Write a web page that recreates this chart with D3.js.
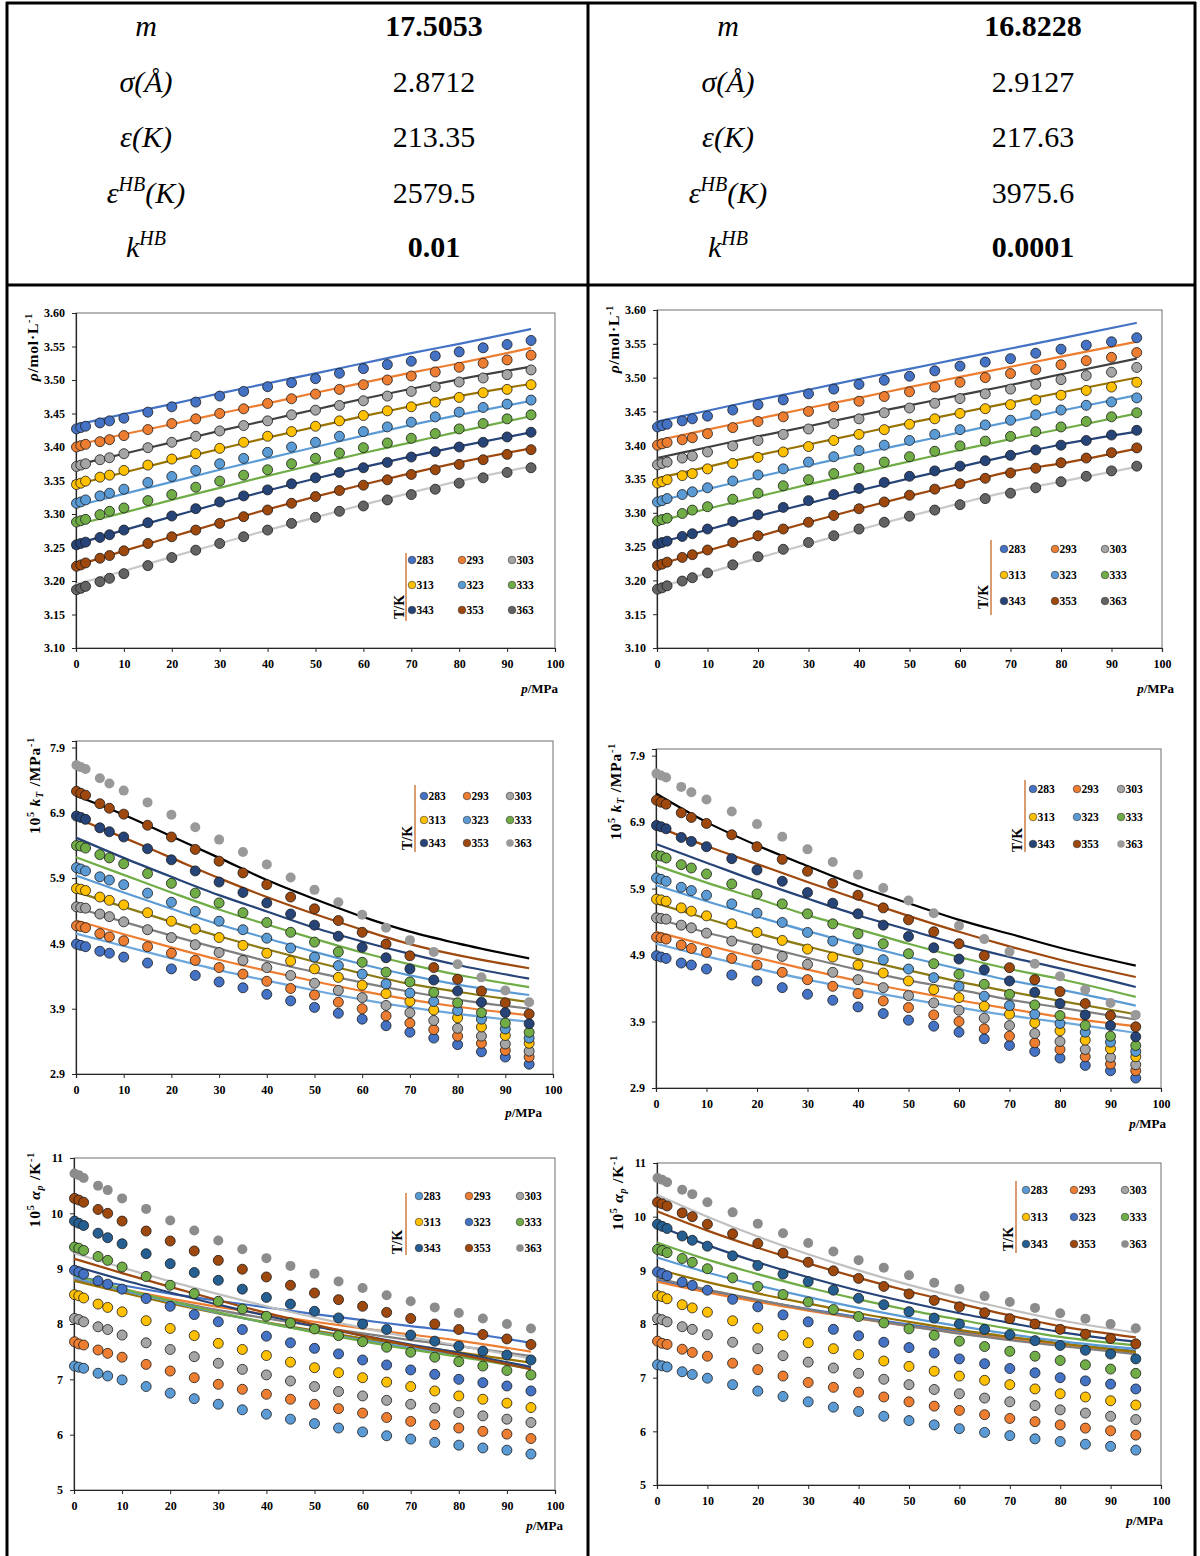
<!DOCTYPE html>
<html><head><meta charset="utf-8">
<script src="https://cdn.jsdelivr.net/npm/d3@7"></script>
<style>
body{margin:0;background:#fff}
svg{display:block}
text{font-family:"Liberation Serif","Times New Roman",serif;fill:#000}
</style>
</head><body>
<svg id="c" width="1200" height="1556"></svg>
<script>
// ---------------- DATA ----------------
const temps = [283, 293, 303, 313, 323, 333, 343, 353, 363];
const pExp = [0.1, 1, 2, 5, 7, 10, 15, 20, 25, 30, 35, 40, 45, 50, 55, 60, 65, 70, 75, 80, 85, 90, 95];
const pModel = [0, 10, 20, 30, 40, 50, 60, 70, 80, 95];
const pTicks = ["0","10","20","30","40","50","60","70","80","90","100"];
const rhoTicks = ["3.10","3.15","3.20","3.25","3.30","3.35","3.40","3.45","3.50","3.55","3.60"];
const ktTicks = ["2.9","3.9","4.9","5.9","6.9","7.9"];
const alphaTicks = ["5","6","7","8","9","10","11"];

const paramSymbols = ["m", "σ", "ε", "ε", "k"];
const paramSupers = ["", "", "", "HB", "HB"];
const paramUnits = ["", "(Å)", "(K)", "(K)", ""];
const paramsLeft = ["17.5053", "2.8712", "213.35", "2579.5", "0.01"];
const paramsRight = ["16.8228", "2.9127", "217.63", "3975.6", "0.0001"];
const paramBold = [true, false, false, false, true];

// density (mol/L), experimental
const rhoExp = [
 [3.427,3.429,3.431,3.436,3.439,3.443,3.452,3.460,3.467,3.476,3.483,3.490,3.496,3.502,3.510,3.517,3.523,3.528,3.536,3.542,3.548,3.553,3.559],
 [3.400,3.402,3.404,3.408,3.411,3.417,3.426,3.435,3.442,3.450,3.457,3.465,3.472,3.479,3.486,3.493,3.500,3.506,3.512,3.519,3.525,3.530,3.537],
 [3.371,3.373,3.375,3.381,3.384,3.390,3.399,3.407,3.416,3.424,3.432,3.439,3.448,3.455,3.462,3.469,3.476,3.483,3.490,3.497,3.503,3.508,3.515],
 [3.344,3.346,3.349,3.355,3.358,3.365,3.373,3.382,3.390,3.398,3.407,3.416,3.423,3.431,3.439,3.447,3.454,3.460,3.467,3.474,3.481,3.486,3.493],
 [3.316,3.318,3.321,3.327,3.331,3.337,3.347,3.356,3.365,3.375,3.383,3.392,3.400,3.407,3.416,3.423,3.430,3.437,3.445,3.452,3.459,3.464,3.470],
 [3.288,3.290,3.292,3.299,3.304,3.309,3.320,3.329,3.340,3.349,3.358,3.366,3.375,3.383,3.391,3.399,3.406,3.413,3.420,3.427,3.435,3.442,3.448],
 [3.254,3.256,3.258,3.265,3.269,3.276,3.287,3.297,3.308,3.318,3.327,3.336,3.345,3.354,3.362,3.369,3.377,3.385,3.393,3.400,3.407,3.415,3.422],
 [3.222,3.224,3.227,3.234,3.238,3.245,3.256,3.266,3.276,3.286,3.296,3.306,3.316,3.326,3.335,3.343,3.351,3.359,3.366,3.374,3.381,3.389,3.396],
 [3.187,3.189,3.192,3.199,3.204,3.211,3.223,3.235,3.246,3.256,3.266,3.276,3.286,3.295,3.304,3.312,3.321,3.329,3.337,3.346,3.354,3.362,3.369]
];
const rhoModelL = [
 [3.433,3.449,3.464,3.480,3.495,3.510,3.525,3.540,3.554,3.576],
 [3.403,3.419,3.434,3.450,3.465,3.481,3.496,3.511,3.525,3.548],
 [3.373,3.390,3.407,3.424,3.440,3.456,3.472,3.487,3.501,3.520],
 [3.344,3.362,3.380,3.397,3.414,3.430,3.446,3.461,3.476,3.494],
 [3.312,3.330,3.348,3.366,3.383,3.400,3.417,3.433,3.448,3.469],
 [3.284,3.302,3.321,3.339,3.357,3.374,3.391,3.407,3.423,3.446],
 [3.255,3.276,3.296,3.316,3.335,3.353,3.370,3.386,3.401,3.422],
 [3.223,3.245,3.266,3.287,3.307,3.326,3.344,3.361,3.377,3.398],
 [3.195,3.215,3.236,3.256,3.276,3.295,3.314,3.332,3.349,3.371]
];
const rhoModelR = [
 [3.435,3.451,3.467,3.482,3.498,3.513,3.528,3.543,3.558,3.581],
 [3.407,3.423,3.439,3.455,3.470,3.486,3.501,3.516,3.531,3.553],
 [3.381,3.397,3.413,3.428,3.444,3.459,3.474,3.489,3.505,3.528],
 [3.351,3.368,3.385,3.401,3.417,3.433,3.448,3.463,3.478,3.500],
 [3.317,3.335,3.353,3.370,3.387,3.403,3.419,3.435,3.451,3.474],
 [3.287,3.306,3.324,3.342,3.359,3.376,3.393,3.409,3.424,3.447],
 [3.255,3.275,3.295,3.314,3.333,3.351,3.368,3.385,3.401,3.420],
 [3.223,3.244,3.265,3.286,3.306,3.325,3.343,3.361,3.373,3.395],
 [3.189,3.211,3.233,3.254,3.275,3.295,3.314,3.332,3.346,3.368]
];

// isothermal compressibility 10^5 kT (MPa^-1), experimental
const ktExp = [
 [4.89,4.87,4.85,4.78,4.75,4.69,4.60,4.51,4.41,4.31,4.22,4.12,4.02,3.92,3.83,3.74,3.64,3.54,3.45,3.35,3.24,3.16,3.05],
 [5.17,5.16,5.14,5.05,5.00,4.94,4.85,4.75,4.64,4.53,4.43,4.32,4.21,4.11,4.00,3.90,3.79,3.68,3.58,3.48,3.37,3.26,3.16],
 [5.46,5.45,5.44,5.35,5.31,5.23,5.11,4.99,4.88,4.76,4.64,4.53,4.41,4.29,4.18,4.07,3.95,3.84,3.72,3.60,3.48,3.36,3.25],
 [5.74,5.73,5.71,5.61,5.56,5.49,5.37,5.24,5.12,4.99,4.87,4.75,4.63,4.51,4.38,4.26,4.13,4.01,3.88,3.76,3.62,3.49,3.37],
 [6.06,6.04,6.01,5.92,5.87,5.80,5.67,5.53,5.39,5.24,5.11,4.98,4.83,4.69,4.56,4.43,4.28,4.14,4.01,3.87,3.74,3.59,3.45],
 [6.40,6.39,6.36,6.26,6.21,6.12,5.97,5.82,5.67,5.52,5.37,5.22,5.07,4.92,4.77,4.61,4.46,4.31,4.15,3.99,3.84,3.68,3.54],
 [6.85,6.83,6.80,6.67,6.61,6.53,6.35,6.18,6.01,5.84,5.68,5.52,5.35,5.18,5.01,4.84,4.68,4.51,4.34,4.17,4.00,3.84,3.67],
 [7.23,7.20,7.17,7.04,6.97,6.88,6.71,6.53,6.34,6.16,5.98,5.80,5.61,5.43,5.25,5.07,4.89,4.71,4.53,4.35,4.17,3.99,3.82],
 [7.63,7.60,7.57,7.43,7.35,7.24,7.06,6.87,6.68,6.49,6.30,6.11,5.91,5.72,5.53,5.34,5.14,4.95,4.77,4.58,4.38,4.18,4.00]
];
const ktModelL = [
 [5.05,4.86,4.67,4.49,4.33,4.18,4.04,3.92,3.82,3.70],
 [5.25,5.04,4.84,4.65,4.48,4.32,4.17,4.04,3.93,3.80],
 [5.45,5.23,5.02,4.82,4.63,4.46,4.30,4.16,4.04,3.90],
 [5.69,5.46,5.23,5.01,4.81,4.62,4.44,4.28,4.16,4.00],
 [5.94,5.68,5.43,5.19,4.98,4.77,4.58,4.41,4.27,4.11],
 [6.22,5.95,5.68,5.42,5.19,4.97,4.76,4.58,4.42,4.23],
 [6.52,6.21,5.92,5.64,5.39,5.14,4.93,4.74,4.57,4.36],
 [6.82,6.52,6.21,5.90,5.61,5.35,5.11,4.89,4.72,4.52],
 [7.16,6.87,6.54,6.21,5.87,5.58,5.31,5.08,4.90,4.67]
];
const ktModelR = [
 [5.07,4.88,4.70,4.53,4.38,4.24,4.11,3.99,3.89,3.73],
 [5.25,5.05,4.86,4.68,4.51,4.36,4.22,4.09,3.97,3.83],
 [5.45,5.24,5.05,4.86,4.68,4.52,4.38,4.23,4.11,3.93],
 [5.68,5.45,5.23,5.03,4.84,4.67,4.50,4.35,4.21,4.01],
 [5.95,5.71,5.48,5.26,5.06,4.87,4.69,4.52,4.38,4.14],
 [6.25,5.99,5.75,5.50,5.29,5.07,4.87,4.69,4.54,4.27],
 [6.57,6.29,6.01,5.75,5.50,5.28,5.06,4.87,4.70,4.42],
 [6.84,6.54,6.27,6.00,5.74,5.49,5.25,5.03,4.83,4.57],
 [7.33,6.90,6.55,6.24,5.94,5.68,5.43,5.22,5.01,4.74]
];

// isobaric expansivity 10^5 alpha_p (K^-1), experimental
const alphaExp = [
 [7.24,7.22,7.20,7.11,7.06,6.99,6.87,6.75,6.65,6.55,6.45,6.37,6.28,6.20,6.12,6.05,5.98,5.92,5.86,5.81,5.76,5.72,5.65],
 [7.68,7.64,7.62,7.53,7.47,7.40,7.27,7.15,7.03,6.91,6.82,6.73,6.64,6.55,6.47,6.39,6.31,6.24,6.18,6.12,6.06,6.01,5.93],
 [8.10,8.08,8.04,7.95,7.90,7.80,7.66,7.54,7.41,7.29,7.18,7.08,6.97,6.87,6.78,6.70,6.62,6.55,6.48,6.40,6.34,6.28,6.22],
 [8.53,8.51,8.47,8.36,8.30,8.22,8.06,7.92,7.79,7.65,7.54,7.43,7.31,7.21,7.12,7.03,6.95,6.87,6.79,6.70,6.64,6.57,6.49],
 [8.97,8.94,8.90,8.78,8.72,8.63,8.46,8.32,8.17,8.04,7.90,7.78,7.66,7.56,7.46,7.35,7.26,7.17,7.09,7.00,6.94,6.88,6.79],
 [9.39,9.37,9.33,9.22,9.15,9.03,8.86,8.70,8.55,8.41,8.27,8.14,8.02,7.91,7.79,7.68,7.58,7.49,7.40,7.32,7.24,7.16,7.08],
 [9.86,9.82,9.78,9.64,9.56,9.45,9.27,9.09,8.93,8.79,8.63,8.48,8.36,8.23,8.11,8.00,7.90,7.80,7.69,7.60,7.51,7.44,7.35],
 [10.27,10.24,10.20,10.07,10.00,9.86,9.68,9.50,9.32,9.15,8.99,8.85,8.70,8.56,8.44,8.32,8.21,8.10,8.00,7.90,7.81,7.73,7.63],
 [10.72,10.69,10.64,10.50,10.42,10.27,10.08,9.87,9.69,9.51,9.35,9.19,9.05,8.91,8.77,8.65,8.52,8.41,8.30,8.20,8.10,8.00,7.92]
];
const alphaModelL = [
 [8.87,8.70,8.55,8.42,8.30,8.18,8.07,7.96,7.86,7.66],
 [8.82,8.63,8.46,8.31,8.17,8.04,7.92,7.81,7.70,7.50],
 [8.80,8.60,8.42,8.25,8.10,7.96,7.83,7.71,7.60,7.42],
 [8.78,8.57,8.37,8.19,8.03,7.88,7.74,7.61,7.49,7.30],
 [8.84,8.61,8.40,8.20,8.02,7.86,7.71,7.57,7.44,7.23],
 [8.88,8.64,8.42,8.21,8.02,7.85,7.69,7.54,7.41,7.19],
 [9.05,8.80,8.57,8.35,8.15,7.96,7.79,7.63,7.48,7.22],
 [9.18,8.92,8.67,8.43,8.20,7.99,7.79,7.61,7.45,7.18],
 [9.28,9.02,8.77,8.54,8.32,8.12,7.93,7.76,7.61,7.38]
];
const alphaModelR = [
 [8.82,8.62,8.44,8.28,8.13,7.99,7.86,7.74,7.63,7.50],
 [8.79,8.59,8.41,8.25,8.10,7.96,7.83,7.72,7.61,7.46],
 [8.85,8.64,8.45,8.27,8.11,7.96,7.82,7.70,7.59,7.44],
 [9.02,8.78,8.57,8.38,8.20,8.04,7.89,7.76,7.64,7.48],
 [9.24,8.96,8.72,8.50,8.30,8.12,7.96,7.81,7.68,7.54],
 [9.52,9.20,8.93,8.68,8.46,8.26,8.08,7.91,7.76,7.60],
 [9.84,9.47,9.15,8.87,8.62,8.40,8.20,8.02,7.85,7.67],
 [10.10,9.74,9.42,9.13,8.86,8.61,8.38,8.16,7.96,7.75],
 [10.41,10.00,9.63,9.30,9.00,8.73,8.49,8.27,8.07,7.84]
];

// colours
const rhoDot   = ["#4472c4","#ed7d31","#a5a5a5","#ffc000","#5b9bd5","#70ad47","#264478","#9e480e","#636363"];
const rhoLine  = ["#4472c4","#ed7d31","#404040","#997300","#5b9bd5","#70ad47","#264478","#9e480e","#c8c8c8"];
const ktDot    = ["#4472c4","#ed7d31","#a5a5a5","#ffc000","#5b9bd5","#70ad47","#264478","#9e480e","#999999"];
const ktLine   = ["#6fa8dc","#ed7d31","#808080","#8c7a14","#5b9bd5","#70ad47","#264478","#9e480e","#000000"];
const alDot    = ["#5b9bd5","#ed7d31","#a5a5a5","#ffc000","#4472c4","#70ad47","#255e91","#9e480e","#8c8c8c"];
const alLine   = ["#4472c4","#ed7d31","#7f7f7f","#997300","#5b9bd5","#70ad47","#264478","#9e480e","#c0c0c0"];

// ---------------- DRAW ----------------
const svg = d3.select("#c");
const FONT = '"Liberation Serif","Times New Roman",serif';

// table frame
const fr = svg.append("g").attr("stroke", "#000").attr("stroke-width", 3);
[[7,2,7,1556],[1195,2,1195,1556],[588,2,588,1556],[6,3,1196,3],[6,285,1196,285]].forEach(l =>
  fr.append("line").attr("x1", l[0]).attr("y1", l[1]).attr("x2", l[2]).attr("y2", l[3]));

// parameter table
const rowBase = [36, 92, 147, 203, 257];
function paramCol(cx, vx, vals) {
  paramSymbols.forEach((s, i) => {
    const t = svg.append("text").attr("x", cx).attr("y", rowBase[i]).attr("text-anchor", "middle")
      .attr("font-size", 30).attr("font-style", "italic");
    t.append("tspan").text(s);
    if (paramSupers[i]) {
      t.append("tspan").attr("font-size", 20).attr("dy", -12).text(paramSupers[i]);
      t.append("tspan").attr("dy", 12).text(paramUnits[i]);
    } else if (paramUnits[i]) {
      t.append("tspan").text(paramUnits[i]);
    }
    svg.append("text").attr("x", vx).attr("y", rowBase[i]).attr("text-anchor", "middle")
      .attr("font-size", 30).attr("font-weight", paramBold[i] ? "bold" : "normal").text(vals[i]);
  });
}
paramCol(146, 434, paramsLeft);
paramCol(728, 1033, paramsRight);

function addTitle(g, parts, x, y) {
  const t = g.append("text").attr("transform", `translate(${x},${y}) rotate(-90)`)
    .attr("text-anchor", "end").attr("font-size", 15.5).attr("font-weight", "bold")
    .attr("letter-spacing", 0.8);
  parts.forEach(p => {
    const ts = t.append("tspan").text(p.t);
    if (p.i) ts.attr("font-style", "italic");
    if (p.sup) ts.attr("font-size", 10).attr("dy", -6);
    if (p.sub) ts.attr("font-size", 10).attr("dy", 3);
    if (p.back) ts.attr("dy", p.back);
  });
}

function drawPanel(c) {
  const g = svg.append("g");
  const x = d3.scaleLinear().domain([0, 100]).range([c.left, c.right]);
  const y = d3.scaleLinear().domain(c.yDomain).range([c.bottom, c.top]);

  g.append("rect").attr("x", c.left).attr("y", c.top).attr("width", c.right - c.left)
    .attr("height", c.bottom - c.top).attr("fill", "none").attr("stroke", "#6e6e6e").attr("stroke-width", 1);

  const ya = g.append("g").attr("transform", `translate(${c.left},0)`)
    .call(d3.axisLeft(y).tickValues(c.yTicks.map(Number)).tickFormat((d, i) => c.yTicks[i]).tickSize(4).tickPadding(7));
  const xa = g.append("g").attr("transform", `translate(0,${c.bottom})`)
    .call(d3.axisBottom(x).tickValues(pTicks.map(Number)).tickFormat((d, i) => pTicks[i]).tickSize(4).tickPadding(7));
  [ya, xa].forEach(a => {
    a.select(".domain").attr("stroke", "#262626").attr("stroke-width", 1.2);
    a.selectAll(".tick line").attr("stroke", "#262626");
    a.selectAll("text").attr("font-size", 12).attr("font-weight", "bold").attr("font-family", FONT).attr("fill", "#000");
  });

  const line = d3.line().x(d => x(d[0])).y(d => y(d[1])).curve(d3.curveMonotoneX);
  c.model.forEach((vals, i) => {
    g.append("path").datum(vals.map((v, j) => [pModel[j], v])).attr("d", line)
      .attr("fill", "none").attr("stroke", c.lineColors[i]).attr("stroke-width", 2.2);
  });
  c.exp.forEach((vals, i) => {
    g.append("g").selectAll("circle").data(vals.map((v, j) => [pExp[j], v])).join("circle")
      .attr("cx", d => x(d[0])).attr("cy", d => y(d[1])).attr("r", 5)
      .attr("fill", c.dotColors[i])
      .attr("stroke", (c.noStrokeLast && i === 8) ? "none" : "#1a1a1a").attr("stroke-width", 0.8);
  });

  // legend
  const L = c.legend;
  g.append("line").attr("x1", L.lx).attr("x2", L.lx).attr("y1", L.ly0).attr("y2", L.ly1)
    .attr("stroke", "#c55a11").attr("stroke-width", 1.2);
  g.append("text").attr("transform", `translate(${L.tx},${L.ty}) rotate(-90)`)
    .attr("font-size", 14).attr("font-weight", "bold").text("T/K");
  temps.forEach((t, i) => {
    const cx = L.cols[i % 3], cy = L.rows[Math.floor(i / 3)];
    g.append("circle").attr("cx", cx).attr("cy", cy).attr("r", 3.8).attr("fill", c.dotColors[i])
      .attr("stroke", (c.noStrokeLast && i === 8) ? "none" : "#333").attr("stroke-width", 0.6);
    g.append("text").attr("x", cx + 4.5).attr("y", cy + 4).attr("font-size", 11.5).attr("font-weight", "bold").text(t);
  });

  addTitle(g, c.title, c.titleX, c.titleY);
  const pl = g.append("text").attr("x", c.pLabel[0]).attr("y", c.pLabel[1]).attr("text-anchor", "end")
    .attr("font-size", 13).attr("font-weight", "bold");
  pl.append("tspan").attr("font-style", "italic").text("p");
  pl.append("tspan").text("/MPa");
}

const rhoTitle = [{t: "ρ", i: true}, {t: "/mol·L"}, {t: "-1", sup: true}];
const ktTitle = [{t: "10"}, {t: "5", sup: true}, {t: " k", i: true, back: 6}, {t: "T", i: true, sub: true}, {t: " /MPa", back: -3}, {t: "-1", sup: true}];
const alTitle = [{t: "10"}, {t: "5", sup: true}, {t: " α", i: true, back: 6}, {t: "p", i: true, sub: true}, {t: " /K", back: -3}, {t: "-1", sup: true}];

drawPanel({left: 76, right: 555, top: 313, bottom: 648, yDomain: [3.10, 3.60], yTicks: rhoTicks,
  exp: rhoExp, model: rhoModelL, dotColors: rhoDot, lineColors: rhoLine, title: rhoTitle, titleX: 38, titleY: 313,
  pLabel: [558, 693],
  legend: {lx: 406, ly0: 553, ly1: 621, tx: 404, ty: 619, cols: [412, 462, 512], rows: [560, 585, 610]}});
drawPanel({left: 657, right: 1162, top: 310, bottom: 648, yDomain: [3.10, 3.60], yTicks: rhoTicks,
  exp: rhoExp, model: rhoModelR, dotColors: rhoDot, lineColors: rhoLine, title: rhoTitle, titleX: 619, titleY: 305,
  pLabel: [1174, 693],
  legend: {lx: 991, ly0: 540, ly1: 615, tx: 988, ty: 609, cols: [1004, 1055, 1105], rows: [549, 575, 601]}});
drawPanel({left: 76, right: 553, top: 741, bottom: 1074, yDomain: [2.9, 8.0], yTicks: ktTicks,
  exp: ktExp, model: ktModelL, dotColors: ktDot, lineColors: ktLine, title: ktTitle, titleX: 40, titleY: 737,
  pLabel: [542, 1117], noStrokeLast: true,
  legend: {lx: 415, ly0: 785, ly1: 852, tx: 412, ty: 850, cols: [424, 467, 510], rows: [796, 820, 843]}});
drawPanel({left: 656, right: 1161, top: 749, bottom: 1088, yDomain: [2.9, 8.0], yTicks: ktTicks,
  exp: ktExp, model: ktModelR, dotColors: ktDot, lineColors: ktLine, title: ktTitle, titleX: 621, titleY: 743,
  pLabel: [1166, 1128], noStrokeLast: true,
  legend: {lx: 1025, ly0: 780, ly1: 852, tx: 1022, ty: 852, cols: [1033, 1077, 1121], rows: [789, 817, 844]}});
drawPanel({left: 74, right: 555, top: 1158, bottom: 1490, yDomain: [5, 11], yTicks: alphaTicks,
  exp: alphaExp, model: alphaModelL, dotColors: alDot, lineColors: alLine, title: alTitle, titleX: 40, titleY: 1152,
  pLabel: [563, 1530], noStrokeLast: true,
  legend: {lx: 406, ly0: 1193, ly1: 1255, tx: 402, ty: 1254, cols: [419, 469, 520], rows: [1196, 1222, 1248]}});
drawPanel({left: 657, right: 1161, top: 1163, bottom: 1485, yDomain: [5, 11], yTicks: alphaTicks,
  exp: alphaExp, model: alphaModelR, dotColors: alDot, lineColors: alLine, title: alTitle, titleX: 623, titleY: 1155,
  pLabel: [1163, 1525], noStrokeLast: true,
  legend: {lx: 1016, ly0: 1181, ly1: 1253, tx: 1013, ty: 1251, cols: [1026, 1074, 1125], rows: [1190, 1217, 1244]}});
</script>
</body></html>
